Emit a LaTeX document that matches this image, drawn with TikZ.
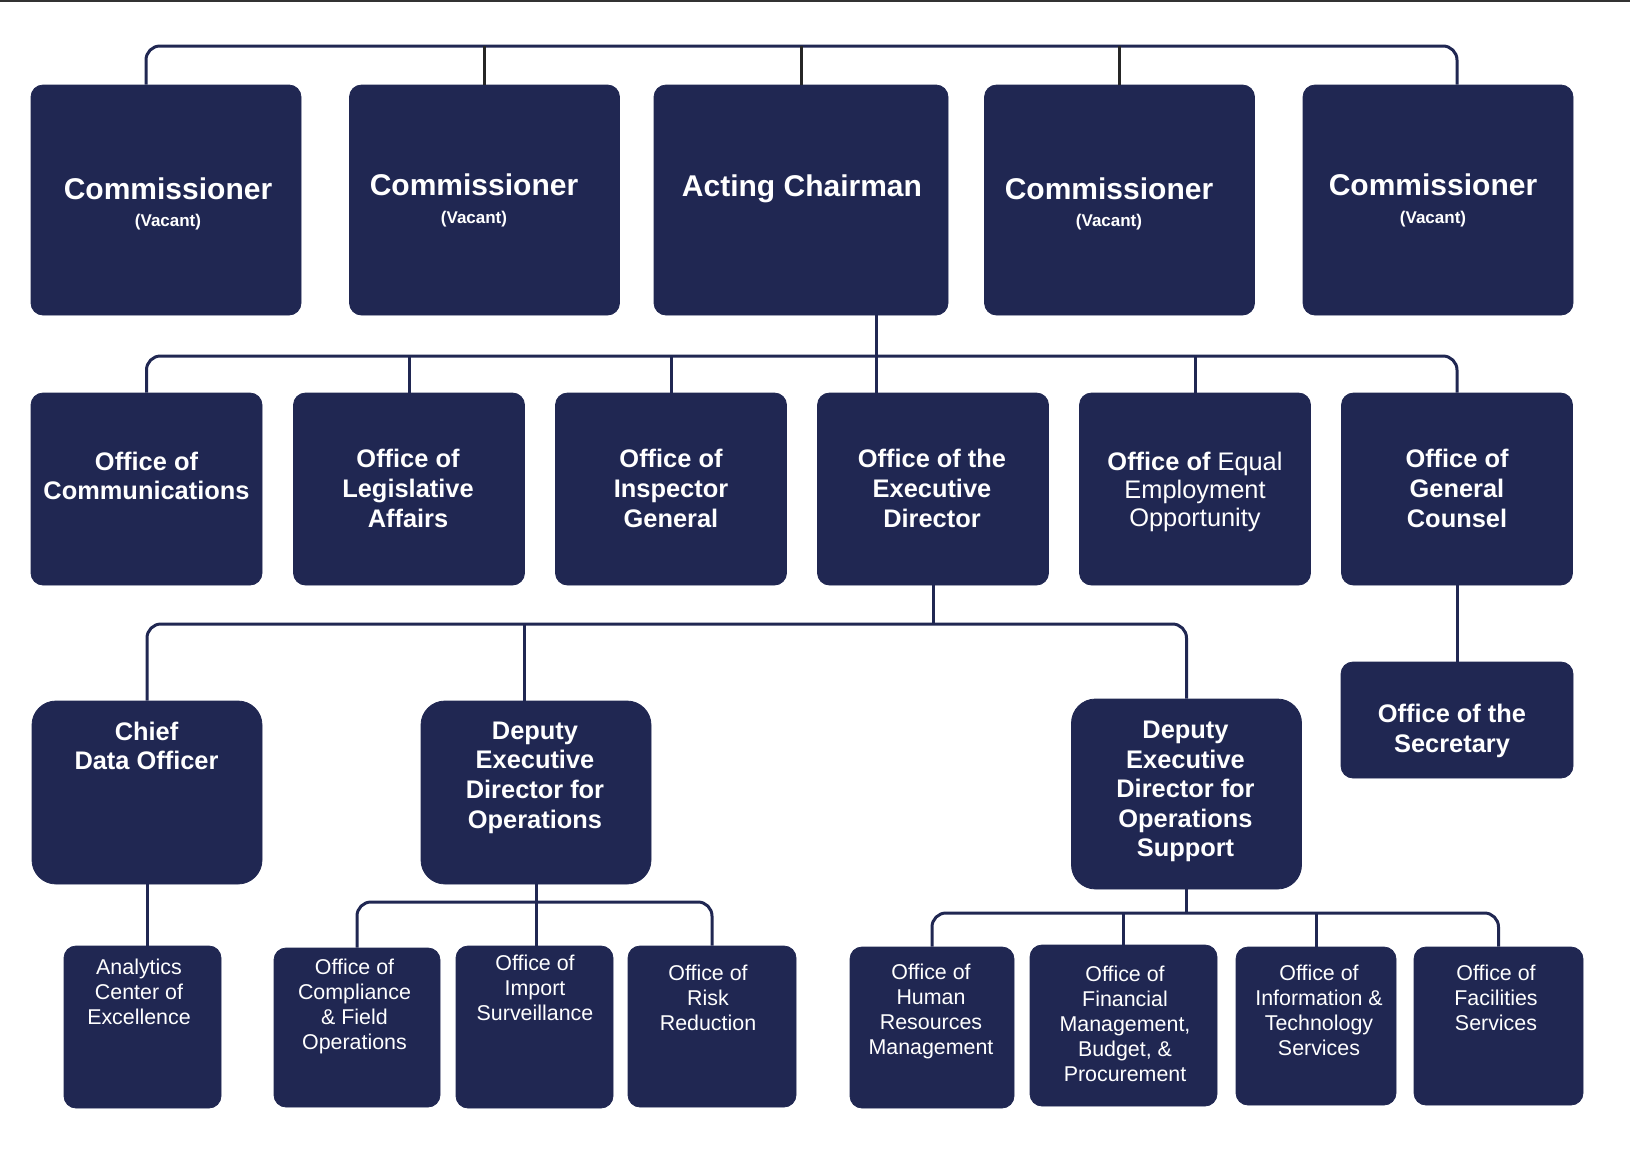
\documentclass[tikz,border=0pt]{standalone}
\usepackage{fontspec}
\setmainfont{Liberation Sans}
\usepackage{tikz}
\usetikzlibrary{positioning}
\definecolor{navy}{RGB}{32,39,82}

\begin{document}
\begin{tikzpicture}[x=0.5pt, y=-0.5pt,
  every node/.style={text=white, align=center, inner sep=0pt},
  box/.style={fill=navy, draw=navy, rounded corners=6pt},
  topbox/.style={box, minimum width=135pt, minimum height=115pt},
  midbox/.style={box, minimum width=115.5pt, minimum height=96pt},
  bigbox/.style={box, rounded corners=12pt, minimum width=115pt},
  lowbox/.style={box, minimum height=80.5pt},
  head/.style={font=\fontsize{15}{18}\selectfont\bfseries},
  vac/.style={font=\fontsize{8.5}{10}\selectfont\bfseries},
  mid/.style={font=\fontsize{12.7}{14.8}\selectfont\bfseries},
  low/.style={font=\fontsize{10.7}{12.5}\selectfont},
  link/.style={draw=navy, line width=1.5pt, rounded corners=7pt},
  stub/.style={draw=black!85, line width=1.5pt}]
\useasboundingbox (0,0) rectangle (1630,1158);
\draw[black!80, line width=1pt] (0,1) -- (1630,1);

% commission
\node[topbox] (comm1) at (166,200) {};
\node[topbox] (comm2) at (484.5,200) {};
\node[topbox, minimum width=147pt] (chair) at (801,200) {};
\node[topbox] (comm4) at (1119.5,200) {};
\node[topbox] (comm5) at (1438,200) {};
\node[head] (comm1-t) at (168,189) {Commissioner};
\node[vac] (comm1-v) at (168,222) {(Vacant)};
\node[head] (comm2-t) at (474,185) {Commissioner};
\node[vac] (comm2-v) at (474,219) {(Vacant)};
\node[head] (chair-t) at (802,189) {Acting Chairman};
\node[head] (comm4-t) at (1109,189) {Commissioner};
\node[vac] (comm4-v) at (1109,222) {(Vacant)};
\node[head] (comm5-t) at (1433,185) {Commissioner};
\node[vac] (comm5-v) at (1433,219) {(Vacant)};

% offices under the chairman
\node[midbox] (comms) at (146.5,489) {};
\node[midbox] (legis) at (409,489) {};
\node[midbox] (ig) at (671,489) {};
\node[midbox] (exec) at (933,489) {};
\node[midbox] (eeo) at (1195,489) {};
\node[midbox] (gc) at (1457,489) {};
\node[mid] (comms-t) at (146.5,476) {Office of\\Communications};
\node[mid] (legis-t) at (408,488.5) {Office of\\Legislative\\Affairs};
\node[mid] (ig-t) at (671,488.5) {Office of\\Inspector\\General};
\node[mid] (exec-t) at (932,488.5) {Office of the\\Executive\\Director};
\node[mid] (eeo-t) at (1195,492) {Office of \mdseries Equal\\[-1pt]\mdseries Employment\\[-1pt]\mdseries Opportunity};
\node[mid] (gc-t) at (1457,488.5) {Office of\\General\\Counsel};

% executive director level
\node[bigbox, minimum height=91.5pt] (cdo) at (147,792.5) {};
\node[bigbox, minimum height=91.5pt] (depo) at (536,792.5) {};
\node[bigbox, minimum height=95pt] (deps) at (1186.5,794) {};
\node[box, minimum width=116pt, minimum height=58pt] (sec) at (1457,720) {};
\node[mid] (cdo-t) at (146.5,746) {Chief\\Data Officer};
\node[mid] (depo-t) at (535,777.5) {Deputy\\Executive\\Director for\\Operations};
\node[mid] (deps-t) at (1185.5,791.5) {Deputy\\Executive\\Director for\\Operations\\Support};
\node[mid] (sec-t) at (1452,731) {Office of the\\Secretary};

% bottom offices
\node[lowbox, minimum width=78.5pt, minimum height=81pt] (ace) at (142.5,1027) {};
\node[lowbox, minimum width=83pt, minimum height=79.5pt] (comp) at (357,1027.5) {};
\node[lowbox, minimum width=78.5pt, minimum height=81pt] (imp) at (534.5,1027) {};
\node[lowbox, minimum width=84pt] (risk) at (712,1026.5) {};
\node[lowbox, minimum width=82pt] (hr) at (932,1027.5) {};
\node[lowbox, minimum width=93.5pt] (fin) at (1123.5,1025.5) {};
\node[lowbox, minimum width=80pt, minimum height=79pt] (it) at (1316,1026) {};
\node[lowbox, minimum width=84.5pt, minimum height=79pt] (fac) at (1498.5,1026) {};
\node[low] (ace-t) at (139,992) {Analytics\\Center of\\Excellence};
\node[low] (comp-t) at (354.5,1006) {Office of\\Compliance\\\& Field\\Operations};
\node[low] (imp-t) at (535,987.5) {Office of\\Import\\Surveillance};
\node[low] (risk-t) at (708,998) {Office of\\Risk\\Reduction};
\node[low] (hr-t) at (931,1011) {Office of\\Human\\Resources\\Management};
\node[low] (fin-t) at (1125,1023.5) {Office of\\Financial\\Management,\\Budget, \&\\Procurement};
\node[low] (it-t) at (1319,1010.5) {Office of\\Information \&\\Technology\\Services};
\node[low] (fac-t) at (1496,997.5) {Office of\\Facilities\\Services};

% connectors
\coordinate (bus1) at (801,46);
\draw[link] ([xshift=-10pt]comm1.north) |- (bus1) -| ([xshift=9.5pt]comm5.north);
\draw[stub] (comm2.north) -- (comm2.north |- bus1);
\draw[stub] (chair.north) -- (chair.north |- bus1);
\draw[stub] (comm4.north) -- (comm4.north |- bus1);

\coordinate (bus2) at (876,356);
\draw[link] (comms.north) |- (bus2) -| (gc.north);
\draw[link] (chair.south -| bus2) -- (exec.north -| bus2);
\draw[link] (legis.north) -- (legis.north |- bus2);
\draw[link] (ig.north) -- (ig.north |- bus2);
\draw[link] (eeo.north) -- (eeo.north |- bus2);

\coordinate (bus3) at (938,624);
\draw[link] (exec.south) -- (exec.south |- bus3);
\draw[link] (cdo.north) |- (bus3) -| (deps.north);
\draw[link] ([xshift=-6pt]depo.north) -- ([xshift=-6pt]depo.north |- bus3);
\draw[link] (gc.south) -- (sec.north);
\draw[link] (cdo.south) -- (cdo.south |- ace.north);

\coordinate (bus4) at (536,902);
\draw[link] (depo.south) -- (depo.south |- imp.north);
\draw[link] (comp.north) |- (bus4) -| (risk.north);

\coordinate (bus5) at (1186,913);
\draw[link] (deps.south) -- (deps.south |- bus5);
\draw[link] (hr.north) |- (bus5) -| (fac.north);
\draw[link] (fin.north) -- (fin.north |- bus5);
\draw[link] (it.north) -- (it.north |- bus5);
\end{tikzpicture}
\end{document}
